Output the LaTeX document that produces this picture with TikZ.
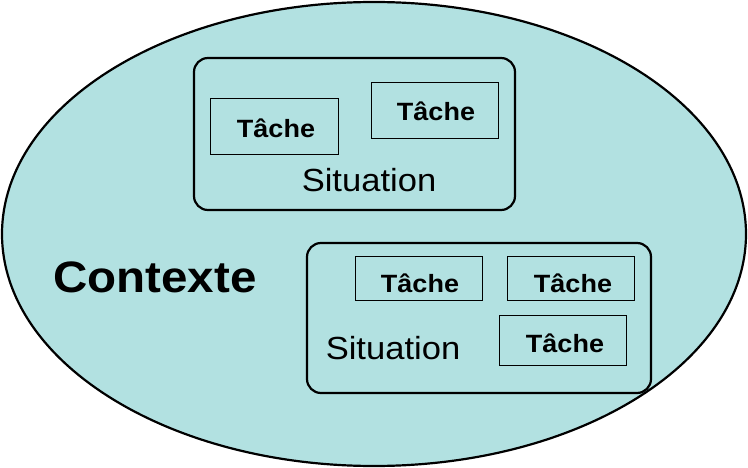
\documentclass[tikz,border=0pt]{standalone}
\usepackage{fontspec}
\setmainfont{Liberation Sans}
\definecolor{bg}{HTML}{B2E1E1}
\begin{document}
\begin{tikzpicture}[x=1pt,y=-1pt,
  tbox/.style={draw,line width=0.8pt,inner sep=0pt},
  sbox/.style={draw,line width=2.2pt,rounded corners=14pt},
  tache/.style={font=\fontsize{25}{25}\bfseries,xscale=1.08},
  sit/.style={font=\fontsize{32}{32}\selectfont,xscale=1.08}]
\useasboundingbox (0,0) rectangle (748,468);
\draw[line width=2.2pt,fill=bg] (374,234) ellipse [x radius=372,y radius=232];
% situation 1
\draw[sbox] (194,58) rectangle (515,210);
\draw[tbox] (210,98) rectangle (338,154);
\draw[tbox] (371,82) rectangle (498,138);
\node[tache] (t1) at (276,128) {Tâche};
\node[tache] (t2) at (436,111) {Tâche};
\node[sit] (s1) at (369,180) {Situation};
% situation 2
\draw[sbox] (307,243) rectangle (651,393);
\draw[tbox] (355,256) rectangle (482,300);
\draw[tbox] (507,256) rectangle (634,300);
\draw[tbox] (499,315) rectangle (626,365);
\node[tache] (t3) at (420,283) {Tâche};
\node[tache] (t4) at (573,283) {Tâche};
\node[tache] (t5) at (565,343) {Tâche};
\node[sit] (s2) at (393,348) {Situation};
\node[font=\fontsize{44}{44}\bfseries,xscale=1.08] (c) at (155,277) {Contexte};
\end{tikzpicture}
\end{document}
